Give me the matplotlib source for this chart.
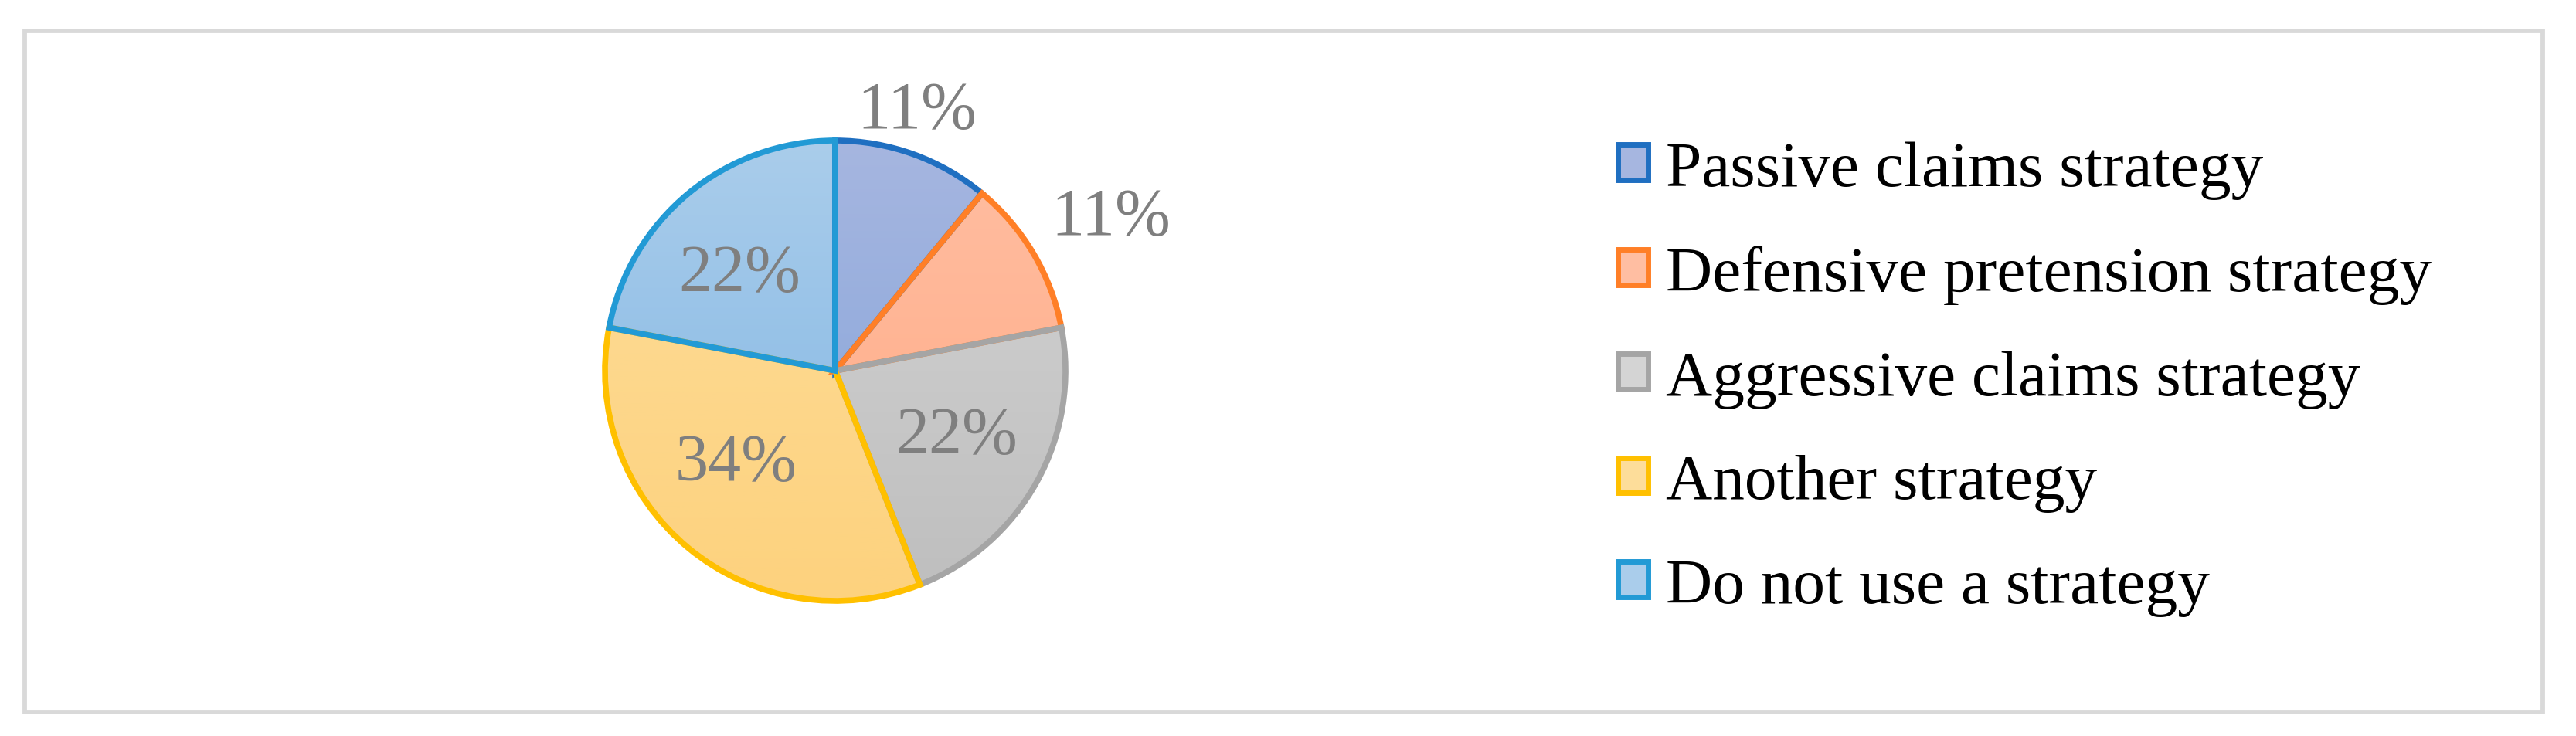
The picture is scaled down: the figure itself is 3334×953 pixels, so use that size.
import numpy as np
import matplotlib
matplotlib.use('Agg')
import matplotlib.pyplot as plt
from matplotlib.patches import Patch, Rectangle
from matplotlib.colors import LinearSegmentedColormap

# data
categories = ['Passive claims strategy', 'Defensive pretension strategy',
              'Aggressive claims strategy', 'Another strategy', 'Do not use a strategy']
shares = [11, 11, 22, 34, 22]
pct_labels = ['11%', '11%', '22%', '34%', '22%']

# colours: edge, light fill (top), dark fill (bottom)
edge_colors = ['#1F6FC1', '#FF7F27', '#A5A5A5', '#FFC000', '#229AD5']
fill_top = ['#A6B6E0', '#FFBEA2', '#D4D4D4', '#FDDD9A', '#AACDEB']
fill_bot = ['#82A3D9', '#FFA983', '#BEBEBE', '#FDD27E', '#7EB4E3']

plt.rcParams['font.family'] = ['Liberation Serif', 'DejaVu Serif']

W, H, DPI = 3334, 954, 100
fig = plt.figure(figsize=(W / DPI, H / DPI), dpi=DPI)
fig.patch.set_facecolor('white')

# outer grey frame
fig.patches.append(Rectangle((32 / W, 1 - 923 / H), (3291 - 32) / W, (923 - 41) / H,
                             transform=fig.transFigure, fill=False,
                             edgecolor='#D9D9D9', linewidth=4.2))

# pie axes: centre (1081, 481) px, radius 298 px
cx, cy, r = 1081, 481, 298
ax = fig.add_axes([(cx - r) / W, 1 - (cy + r) / H, 2 * r / W, 2 * r / H])
wedges, _ = ax.pie(shares, startangle=90, counterclock=False, radius=1,
                   colors=fill_bot)
ax.set_xlim(-1, 1)
ax.set_ylim(-1, 1)
ax.set_aspect('equal')
ax.axis('off')

# gradient fills clipped to each wedge
for w, ct, cb, ec in zip(wedges, fill_top, fill_bot, edge_colors):
    w.set_facecolor('none')
    w.set_edgecolor(ec)
    w.set_linewidth(5.5)
    w.set_joinstyle('miter')
    w.set_clip_on(False)
    w.set_zorder(3)
    cmap = LinearSegmentedColormap.from_list('g', [cb, ct])
    grad = np.linspace(0, 1, 256).reshape(-1, 1)
    im = ax.imshow(grad, cmap=cmap, extent=[-1, 1, -1, 1], origin='lower',
                   aspect='auto', zorder=1)
    im.set_clip_path(w)

# percentage labels (distance from centre, angle in degrees)
label_pos = [(1.18, 72.5), (1.37, 29.0), (0.60, -28.6), (0.59, -136.8), (0.59, 134.8)]
for lab, (d, a) in zip(pct_labels, label_pos):
    t = np.deg2rad(a)
    ax.text(d * np.cos(t), d * np.sin(t), lab, ha='center', va='center',
            fontsize=62, color='#7F7F7F', zorder=5)

# legend
handles = [Patch(facecolor=fc, edgecolor=ec, linewidth=5.0)
           for fc, ec in zip(fill_top, edge_colors)]
fig.legend(handles, categories, loc='center left',
           bbox_to_anchor=(2094 / W, 1 - 491 / H), frameon=False,
           fontsize=60, handlelength=0.47, handleheight=0.47,
           handletextpad=0.27, labelspacing=0.71, borderpad=0, borderaxespad=0)

fig.savefig('out.png', dpi=DPI)
